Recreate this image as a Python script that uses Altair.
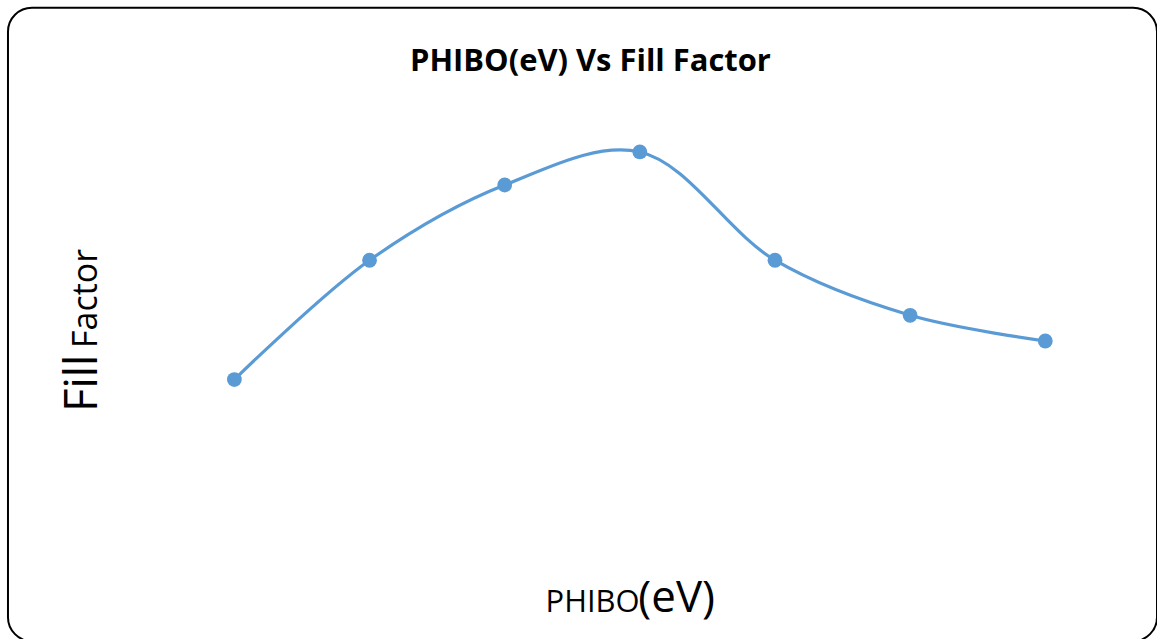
import altair as alt
import pandas as pd

# PHIBO barrier height (eV) and measured fill factor
phibo = [0.60, 0.65, 0.70, 0.75, 0.80, 0.85, 0.90]
fill_factor = [0.698, 0.763, 0.804, 0.822, 0.763, 0.733, 0.719]

df = pd.DataFrame({"PHIBO": phibo, "FF": fill_factor})
one = pd.DataFrame({"k": [0]})

BLUE = "#5B9BD5"
FONT = "Open Sans"

x = alt.X("PHIBO:Q", axis=None,
          scale=alt.Scale(domain=[0.6, 0.9], range=[227, 1040], nice=False, zero=False))
y = alt.Y("FF:Q", axis=None,
          scale=alt.Scale(domain=[0.6, 0.85], range=[553, 93], nice=False, zero=False))

line = alt.Chart(df).mark_line(
    color=BLUE, strokeWidth=3.2, interpolate="catmull-rom"
).encode(x=x, y=y)

pts = alt.Chart(df).mark_point(
    filled=True, color=BLUE, size=220, opacity=1
).encode(x=x, y=y)


def label(text, px, py, size, angle=0, align="left", weight="normal"):
    return alt.Chart(one).mark_text(
        text=text, font=FONT, fontSize=size, color="black", fontWeight=weight,
        align=align, baseline="alphabetic", angle=angle
    ).encode(x=alt.value(px), y=alt.value(py))


# chart title
title = label("PHIBO(eV) Vs Fill Factor", 584, 63, 31, align="center", weight="bold")
# x-axis title: smaller name part and larger unit part
x_title_a = label("PHIBO", 539, 606, 31)
x_title_b = label("(eV)", 632, 606, 44)
# y-axis title, rotated
y_title_a = label("Fill", 89, 405, 45, angle=270)
y_title_b = label("Factor", 89, 341, 34, angle=270)

chart = alt.layer(
    line, pts, title, x_title_a, x_title_b, y_title_a, y_title_b
).properties(
    width=1152,
    height=635,
    autosize=alt.AutoSizeParams(type="none"),
    padding={"left": 8, "top": 7, "right": 0, "bottom": 0},
).configure_view(
    stroke="black", strokeWidth=2, cornerRadius=24
)

chart.save("out.html", embed_options={"renderer": "svg", "actions": False})
